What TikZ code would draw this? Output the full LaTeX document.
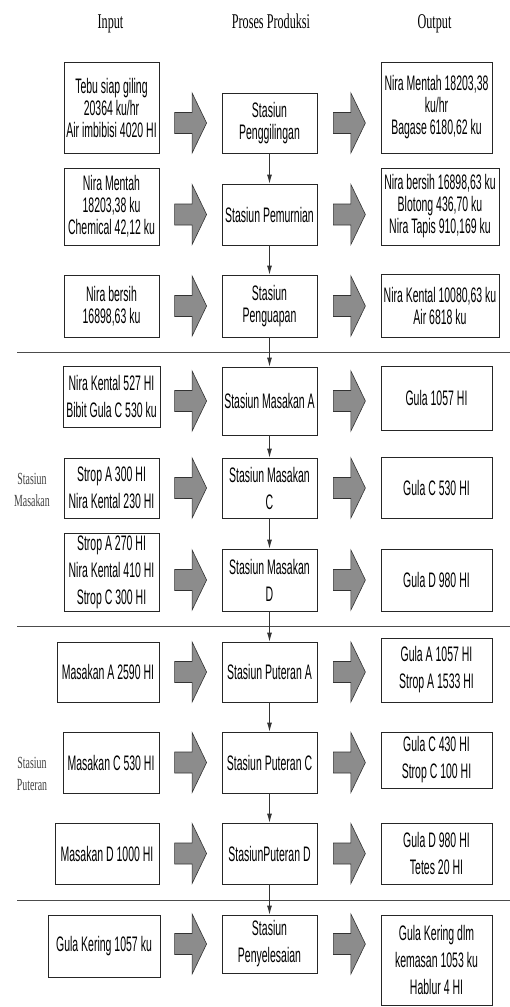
\documentclass[tikz,border=0pt]{standalone}
\usepackage{fontspec}
\usepackage{tikz}
\usetikzlibrary{positioning,arrows.meta}
\newfontfamily\boxfont[FakeStretch=0.5]{Liberation Sans}
\newfontfamily\headfont[FakeStretch=0.58]{Liberation Serif}
\definecolor{arrowgray}{RGB}{140,140,140}

\begin{document}
\begin{tikzpicture}[x=1pt,y=-1pt,>={Latex[length=9pt,width=5pt]},
  blok/.style={draw=black!85,line width=0.8pt,align=center,inner sep=0pt,
    font=\boxfont\fontsize{21}{22}\selectfont},
  blokb/.style={blok,font=\boxfont\fontsize{21}{27}\selectfont},
  proc/.style={minimum width=95pt},
  judul/.style={font=\headfont\fontsize{21}{22}\selectfont,anchor=base},
  sisi/.style={align=center,text=black!75,font=\headfont\fontsize{17}{22}\selectfont},
  garis/.style={draw=black!70,line width=1pt},
  alir/.style={->,draw=black!80,line width=0.8pt},
  panah/.pic={\draw[fill=arrowgray,draw=black!80,line width=0.6pt]
    (-16,-10.5) -- (1.5,-10.5) -- (1.5,-30) -- (16,0) -- (1.5,30) -- (1.5,10.5) -- (-16,10.5) -- cycle;}]
  \useasboundingbox (0,0) rectangle (510,1007);

  \node[judul] (hin) at (110.5,28) {Input};
  \node[judul] (hproc) at (271,28) {Proses Produksi};
  \node[judul] (hout) at (434.5,28) {Output};

  % stasiun penggilingan s.d. penguapan
  \node[blok,minimum width=95pt,minimum height=91pt] (in1) at (111.5,107.5) {Tebu siap giling\\20364 ku/hr\\Air imbibisi 4020 HI};
  \node[blok,proc,minimum height=60pt] (p1) at (269.5,123) {Stasiun\\Penggilingan};
  \node[blok,minimum width=111pt,minimum height=91pt] (out1) at (436.5,107.5) {Nira Mentah 18203,38\\ku/hr\\Bagase 6180,62 ku};

  \node[blok,minimum width=95pt,minimum height=77pt] (in2) at (111.5,206.5) {Nira Mentah\\18203,38 ku\\Chemical 42,12 ku};
  \node[blok,proc,minimum height=61pt] (p2) at (269.5,214.5) {Stasiun Pemurnian};
  \node[blok,minimum width=118pt,minimum height=77pt] (out2) at (440,206.5) {Nira bersih 16898,63 ku\\Blotong 436,70 ku\\Nira Tapis 910,169 ku};

  \node[blok,minimum width=95pt,minimum height=62pt] (in3) at (111.5,306) {Nira bersih\\16898,63 ku};
  \node[blok,proc,minimum height=62pt] (p3) at (269.5,306) {Stasiun\\Penguapan};
  \node[blok,minimum width=118pt,minimum height=63pt] (out3) at (440,305.5) {Nira Kental 10080,63 ku\\Air 6818 ku};

  % stasiun masakan
  \node[blokb,minimum width=97pt,minimum height=61pt] (in4) at (111.5,396.5) {Nira Kental 527 HI\\Bibit Gula C 530 ku};
  \node[blokb,proc,minimum height=68pt] (p4) at (269.5,401) {Stasiun Masakan A};
  \node[blokb,minimum width=111pt,minimum height=64pt] (out4) at (436.5,398) {Gula 1057 HI};

  \node[blokb,minimum width=95pt,minimum height=60pt] (in5) at (111.5,488) {Strop A 300 HI\\Nira Kental 230 HI};
  \node[blokb,proc,minimum height=60pt] (p5) at (269.5,488) {Stasiun Masakan\\C};
  \node[blokb,minimum width=111pt,minimum height=61pt] (out5) at (436.5,487.5) {Gula C 530 HI};

  \node[blokb,minimum width=95pt,minimum height=78pt] (in6) at (111.5,572) {Strop A 270 HI\\Nira Kental 410 HI\\Strop C 300 HI};
  \node[blokb,proc,minimum height=62pt] (p6) at (269.5,580) {Stasiun Masakan\\D};
  \node[blokb,minimum width=111pt,minimum height=62pt] (out6) at (436.5,580) {Gula D 980 HI};

  % stasiun puteran
  \node[blokb,minimum width=102pt,minimum height=60pt] (in7) at (108,672) {Masakan A 2590 HI};
  \node[blokb,proc,minimum height=60pt] (p7) at (269.5,672) {Stasiun Puteran A};
  \node[blokb,minimum width=111pt,minimum height=64pt] (out7) at (436.5,670) {Gula A 1057 HI\\Strop A 1533 HI};

  \node[blokb,minimum width=96pt,minimum height=61pt] (in8) at (111,762.5) {Masakan C 530 HI};
  \node[blokb,proc,minimum height=61pt] (p8) at (269.5,762.5) {Stasiun Puteran C};
  \node[blokb,minimum width=111pt,minimum height=56pt] (out8) at (436.5,760) {Gula C 430 HI\\Strop C 100 HI};

  \node[blokb,minimum width=104pt,minimum height=61pt] (in9) at (107,853.5) {Masakan D 1000 HI};
  \node[blokb,proc,minimum height=61pt] (p9) at (269.5,853.5) {StasiunPuteran D};
  \node[blokb,minimum width=111pt,minimum height=61pt] (out9) at (436.5,853.5) {Gula D 980 HI\\Tetes 20 HI};

  % stasiun penyelesaian
  \node[blokb,minimum width=112pt,minimum height=62pt] (in10) at (104,946) {Gula Kering 1057 ku};
  \node[blokb,proc,minimum height=58pt] (p10) at (269.5,944) {Stasiun\\Penyelesaian};
  \node[blokb,minimum width=111pt,minimum height=90pt] (out10) at (436.5,960) {Gula Kering dlm\\kemasan 1053 ku\\Hablur 4 HI};

  \node[sisi] (smasak) at (32,490) {Stasiun\\Masakan};
  \node[sisi] (sputer) at (32,774) {Stasiun\\Puteran};

  \draw[garis] (17,352) -- (510,352);
  \draw[garis] (17,626) -- (510,626);
  \draw[garis] (17,900) -- (510,900);

  \foreach \i in {1,...,10} {
    \pic at ([xshift=-31pt]p\i.west) {panah};
    \pic at ([xshift=32pt]p\i.east) {panah};
  }

  \foreach \i/\j in {1/2,2/3,3/4,4/5,5/6,6/7,7/8,8/9,9/10}
    \draw[alir] (p\i) -- (p\j);
\end{tikzpicture}
\end{document}
